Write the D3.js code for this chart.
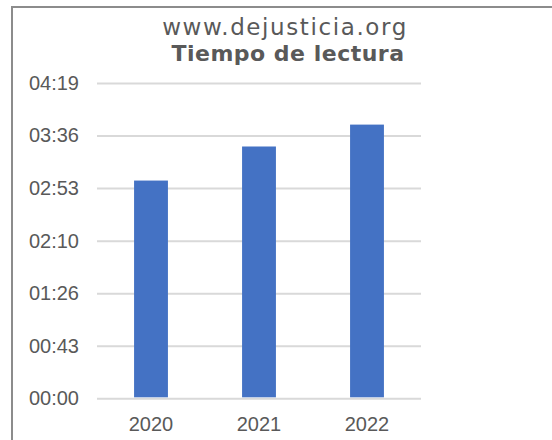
<!DOCTYPE html>
<html>
<head>
<meta charset="utf-8">
<script src="https://cdn.jsdelivr.net/npm/d3@7"></script>
<style>
  body { margin: 0; background: #fff; }
  text { font-family: "Liberation Sans", Arial, sans-serif; fill: #595959; }
</style>
</head>
<body>
<svg id="chart"></svg>
<script>
// datos
const years = ["2020", "2021", "2022"];
const readTimes = ["02:59", "03:27", "03:45"]; // mm:ss
const tickLabels = ["00:00", "00:43", "01:26", "02:10", "02:53", "03:36", "04:19"];
const tickStep = 43.2; // segundos por linea de cuadricula

const width = 552;
const height = 440;
const margin = { top: 83, right: 131, bottom: 42, left: 97 };

const toSeconds = (s) => {
  const [m, sec] = s.split(":").map(Number);
  return m * 60 + sec;
};
const values = readTimes.map(toSeconds);

const svg = d3.select("#chart")
  .attr("width", width)
  .attr("height", height);

// marco del grafico (solo se ven borde izquierdo y superior)
svg.append("rect")
  .attr("x", 12)
  .attr("y", 7)
  .attr("width", 600)
  .attr("height", 500)
  .attr("fill", "none")
  .attr("stroke", "#8c8c8c")
  .attr("stroke-width", 2);

const xScale = d3.scaleBand()
  .domain(years)
  .range([margin.left, width - margin.right])
  .paddingInner(2.19 / 3.19)
  .paddingOuter(2.19 / 3.19 / 2);

const yScale = d3.scaleLinear()
  .domain([0, tickStep * (tickLabels.length - 1)])
  .range([height - margin.bottom + 0.3, margin.top]);

const yAxis = svg.append("g")
  .attr("transform", `translate(${margin.left}, 0)`)
  .call(d3.axisLeft(yScale)
    .tickValues(tickLabels.map((d, i) => i * tickStep))
    .tickFormat((d, i) => tickLabels[i])
    .tickSizeInner(-(width - margin.left - margin.right))
    .tickSizeOuter(0)
    .tickPadding(18));

yAxis.select(".domain").remove();
yAxis.selectAll("line")
  .attr("stroke", "#d9d9d9")
  .attr("stroke-width", 2);
yAxis.selectAll("text")
  .attr("fill", "#595959")
  .style("font-size", "20px")
  .style("font-family", "'Liberation Sans', Arial, sans-serif");

// barras
svg.append("g")
  .selectAll("rect")
  .data(years)
  .join("rect")
  .attr("x", (d) => xScale(d))
  .attr("y", (d, i) => yScale(values[i]))
  .attr("width", xScale.bandwidth())
  .attr("height", (d, i) => yScale(0) - yScale(values[i]) - 1)
  .attr("fill", "#4472c4");

const xAxis = svg.append("g")
  .attr("transform", `translate(0, ${yScale(0)})`)
  .call(d3.axisBottom(xScale).tickSize(0).tickPadding(19));

xAxis.select(".domain").remove();
xAxis.selectAll("text")
  .attr("fill", "#595959")
  .style("font-size", "20px")
  .style("font-family", "'Liberation Sans', Arial, sans-serif");

// titulos
svg.append("text")
  .attr("x", 285)
  .attr("y", 35)
  .attr("text-anchor", "middle")
  .style("font-family", "'DejaVu Sans', sans-serif")
  .style("font-size", "23px")
  .style("letter-spacing", "1.6px")
  .text("www.dejusticia.org");

svg.append("text")
  .attr("x", 288)
  .attr("y", 61)
  .attr("text-anchor", "middle")
  .style("font-family", "'DejaVu Sans', sans-serif")
  .style("font-size", "22px")
  .style("font-weight", "bold")
  .style("letter-spacing", "0.5px")
  .text("Tiempo de lectura");
</script>
</body>
</html>
